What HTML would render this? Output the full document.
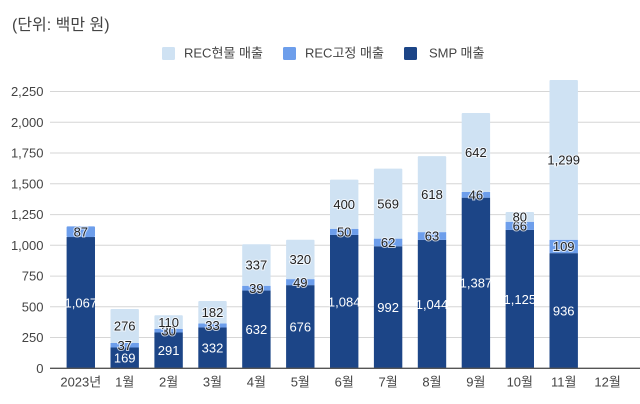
<!DOCTYPE html>
<html>
<head>
<meta charset="utf-8">
<style>
  html, body { margin:0; padding:0; background:#fff; }
  svg { display:block; }
  text { font-family: "Liberation Sans", "Noto Sans CJK KR", sans-serif; }
  .lbl { font-size:13px; text-anchor:middle; }
  .dk { fill:#222; stroke:#ffffff; stroke-width:2; stroke-opacity:0.7; paint-order:stroke; }
  .wt { fill:#fff; }
  .yt { font-size:13px; fill:#444; text-anchor:end; }
  .xt { font-size:13px; fill:#444; text-anchor:middle; }
</style>
</head>
<body>
<svg width="640" height="404" viewBox="0 0 640 404" xmlns="http://www.w3.org/2000/svg">
  <rect x="0" y="0" width="640" height="404" fill="#fff"/>
  <text x="12" y="30" font-size="16" fill="#444">(단위: 백만 원)</text>

  <rect x="162" y="47" width="13" height="13" rx="1.5" fill="#cfe2f3"/>
  <text x="184" y="57.5" font-size="13" fill="#444">REC현물 매출</text>
  <rect x="283" y="47" width="13" height="13" rx="1.5" fill="#6d9eeb"/>
  <text x="305" y="57.5" font-size="13" fill="#444">REC고정 매출</text>
  <rect x="404" y="47" width="13" height="13" rx="1.5" fill="#1c4587"/>
  <text x="429" y="57.5" font-size="13" fill="#444">SMP 매출</text>

  <g stroke="#d6d6d6" stroke-width="1">
    <line x1="50" x2="640" y1="91.5" y2="91.5"/>
    <line x1="50" x2="640" y1="122.3" y2="122.3"/>
    <line x1="50" x2="640" y1="153.0" y2="153.0"/>
    <line x1="50" x2="640" y1="183.8" y2="183.8"/>
    <line x1="50" x2="640" y1="214.6" y2="214.6"/>
    <line x1="50" x2="640" y1="245.3" y2="245.3"/>
    <line x1="50" x2="640" y1="276.1" y2="276.1"/>
    <line x1="50" x2="640" y1="306.8" y2="306.8"/>
    <line x1="50" x2="640" y1="337.5" y2="337.5"/>
  </g>

  <text class="yt" x="43.5" y="96">2,250</text>
  <text class="yt" x="43.5" y="126.8">2,000</text>
  <text class="yt" x="43.5" y="157.5">1,750</text>
  <text class="yt" x="43.5" y="188.3">1,500</text>
  <text class="yt" x="43.5" y="219.1">1,250</text>
  <text class="yt" x="43.5" y="249.8">1,000</text>
  <text class="yt" x="43.5" y="280.6">750</text>
  <text class="yt" x="43.5" y="311.3">500</text>
  <text class="yt" x="43.5" y="342">250</text>
  <text class="yt" x="43.5" y="372.8">0</text>

  <rect x="66.6" y="237.04" width="28.4" height="131.26" fill="#1c4587"/>
  <rect x="66.6" y="226.33" width="28.4" height="10.71" rx="1" fill="#6d9eeb"/>

  <rect x="110.5" y="347.51" width="28.4" height="20.79" fill="#1c4587"/>
  <rect x="110.5" y="342.96" width="28.4" height="4.55" fill="#6d9eeb"/>
  <rect x="110.5" y="309.0" width="28.4" height="33.96" rx="1" fill="#cfe2f3"/>

  <rect x="154.4" y="332.50" width="28.4" height="35.80" fill="#1c4587"/>
  <rect x="154.4" y="328.81" width="28.4" height="3.69" fill="#6d9eeb"/>
  <rect x="154.4" y="315.28" width="28.4" height="13.53" rx="1" fill="#cfe2f3"/>

  <rect x="198.3" y="327.46" width="28.4" height="40.84" fill="#1c4587"/>
  <rect x="198.3" y="323.40" width="28.4" height="4.06" fill="#6d9eeb"/>
  <rect x="198.3" y="301.01" width="28.4" height="22.39" rx="1" fill="#cfe2f3"/>

  <rect x="242.2" y="290.55" width="28.4" height="77.75" fill="#1c4587"/>
  <rect x="242.2" y="285.75" width="28.4" height="4.80" fill="#6d9eeb"/>
  <rect x="242.2" y="244.3" width="28.4" height="41.45" rx="1" fill="#cfe2f3"/>

  <rect x="286.1" y="285.14" width="28.4" height="83.16" fill="#1c4587"/>
  <rect x="286.1" y="279.11" width="28.4" height="6.03" fill="#6d9eeb"/>
  <rect x="286.1" y="239.74" width="28.4" height="39.37" rx="1" fill="#cfe2f3"/>

  <rect x="330.0" y="234.95" width="28.4" height="133.35" fill="#1c4587"/>
  <rect x="330.0" y="228.80" width="28.4" height="6.15" fill="#6d9eeb"/>
  <rect x="330.0" y="179.59" width="28.4" height="49.21" rx="1" fill="#cfe2f3"/>

  <rect x="373.9" y="246.26" width="28.4" height="122.04" fill="#1c4587"/>
  <rect x="373.9" y="238.64" width="28.4" height="7.62" fill="#6d9eeb"/>
  <rect x="373.9" y="168.64" width="28.4" height="70.00" rx="1" fill="#cfe2f3"/>

  <rect x="417.8" y="239.87" width="28.4" height="128.43" fill="#1c4587"/>
  <rect x="417.8" y="232.12" width="28.4" height="7.75" fill="#6d9eeb"/>
  <rect x="417.8" y="156.09" width="28.4" height="76.03" rx="1" fill="#cfe2f3"/>

  <rect x="461.7" y="197.67" width="28.4" height="170.63" fill="#1c4587"/>
  <rect x="461.7" y="192.01" width="28.4" height="5.66" fill="#6d9eeb"/>
  <rect x="461.7" y="113.03" width="28.4" height="78.98" rx="1" fill="#cfe2f3"/>

  <rect x="505.6" y="229.90" width="28.4" height="138.40" fill="#1c4587"/>
  <rect x="505.6" y="221.78" width="28.4" height="8.12" fill="#6d9eeb"/>
  <rect x="505.6" y="211.94" width="28.4" height="9.84" rx="1" fill="#cfe2f3"/>

  <rect x="549.5" y="253.15" width="28.4" height="115.15" fill="#1c4587"/>
  <rect x="549.5" y="239.74" width="28.4" height="13.41" fill="#6d9eeb"/>
  <rect x="549.5" y="79.94" width="28.4" height="159.80" rx="1" fill="#cfe2f3"/>

  <line x1="50" x2="640" y1="368.3" y2="368.3" stroke="#555" stroke-width="1.3"/>

  <text class="lbl wt" x="80.8" y="307.4">1,067</text>
  <text class="lbl dk" x="80.8" y="236.4">87</text>

  <text class="lbl wt" x="124.7" y="362.6">169</text>
  <text class="lbl dk" x="124.7" y="349.9">37</text>
  <text class="lbl dk" x="124.7" y="330.7">276</text>

  <text class="lbl wt" x="168.6" y="355.1">291</text>
  <text class="lbl dk" x="168.6" y="335.4">30</text>
  <text class="lbl dk" x="168.6" y="326.8">110</text>

  <text class="lbl wt" x="212.5" y="352.6">332</text>
  <text class="lbl dk" x="212.5" y="330.1">33</text>
  <text class="lbl dk" x="212.5" y="316.9">182</text>

  <text class="lbl wt" x="256.4" y="334.1">632</text>
  <text class="lbl dk" x="256.4" y="292.9">39</text>
  <text class="lbl dk" x="256.4" y="269.7">337</text>

  <text class="lbl wt" x="300.3" y="331.4">676</text>
  <text class="lbl dk" x="300.3" y="286.8">49</text>
  <text class="lbl dk" x="300.3" y="264.1">320</text>

  <text class="lbl wt" x="344.2" y="306.3">1,084</text>
  <text class="lbl dk" x="344.2" y="236.6">50</text>
  <text class="lbl dk" x="344.2" y="208.9">400</text>

  <text class="lbl wt" x="388.1" y="312.0">992</text>
  <text class="lbl dk" x="388.1" y="247.1">62</text>
  <text class="lbl dk" x="388.1" y="208.3">569</text>

  <text class="lbl wt" x="432.0" y="308.8">1,044</text>
  <text class="lbl dk" x="432.0" y="240.7">63</text>
  <text class="lbl dk" x="432.0" y="198.8">618</text>

  <text class="lbl wt" x="475.9" y="287.7">1,387</text>
  <text class="lbl dk" x="475.9" y="199.5">46</text>
  <text class="lbl dk" x="475.9" y="157.2">642</text>

  <text class="lbl wt" x="519.8" y="303.8">1,125</text>
  <text class="lbl dk" x="519.8" y="230.5">66</text>
  <text class="lbl dk" x="519.8" y="221.5">80</text>

  <text class="lbl wt" x="563.7" y="315.4">936</text>
  <text class="lbl dk" x="563.7" y="251.1">109</text>
  <text class="lbl dk" x="563.7" y="164.5">1,299</text>

  <text class="xt" x="80.8" y="386.3">2023년</text>
  <text class="xt" x="124.7" y="386.3">1월</text>
  <text class="xt" x="168.6" y="386.3">2월</text>
  <text class="xt" x="212.5" y="386.3">3월</text>
  <text class="xt" x="256.4" y="386.3">4월</text>
  <text class="xt" x="300.3" y="386.3">5월</text>
  <text class="xt" x="344.2" y="386.3">6월</text>
  <text class="xt" x="388.1" y="386.3">7월</text>
  <text class="xt" x="432.0" y="386.3">8월</text>
  <text class="xt" x="475.9" y="386.3">9월</text>
  <text class="xt" x="519.8" y="386.3">10월</text>
  <text class="xt" x="563.7" y="386.3">11월</text>
  <text class="xt" x="607.6" y="386.3">12월</text>
</svg>
</body>
</html>
